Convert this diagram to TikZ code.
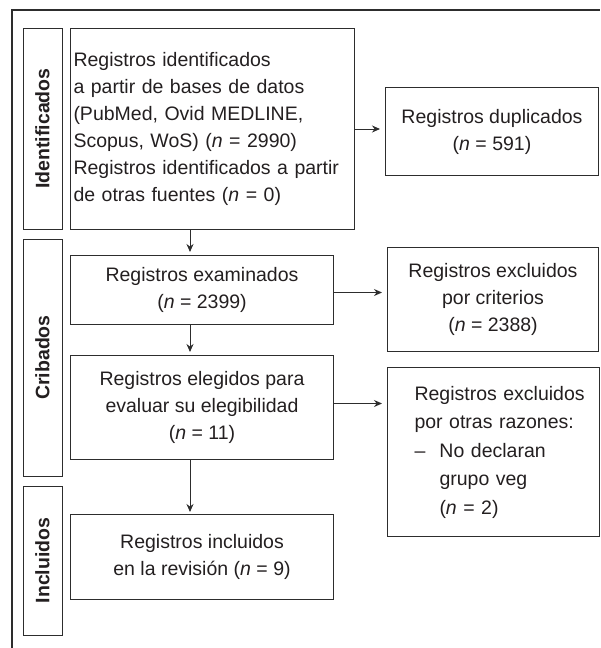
\documentclass[tikz,border=0pt]{standalone}
\usepackage{fontspec}
\setmainfont{Liberation Sans}
\usetikzlibrary{arrows.meta,positioning,calc}
\definecolor{linegray}{RGB}{45,45,45}
\definecolor{textgray}{RGB}{35,31,32}

\begin{document}
\begin{tikzpicture}[
    x=1pt, y=-1pt,
    every node/.style={font=\fontsize{19.5}{27}\selectfont, text=textgray},
    box/.style={draw=linegray, line width=1pt, align=center, inner sep=3pt, anchor=north west},
    phase/.style={draw=linegray, line width=1pt, rotate=90, inner sep=0pt, font=\fontsize{19.5}{27}\selectfont\bfseries},
    arr/.style={-{Stealth[length=8pt,width=7pt]}, draw=linegray, line width=1pt}
  ]
    \useasboundingbox (0,0) rectangle (600,648);
    % marco exterior
    \draw[linegray, line width=2pt] (12,648) |- (600,10);

    % fases
    \node[phase, minimum width=201pt, minimum height=39pt] (ident) at (42.5,128.5) {Identificados};
    \node[phase, minimum width=237pt, minimum height=39pt] (crib) at (42.5,357.5) {Cribados};
    \node[phase, minimum width=149pt, minimum height=39pt] (incl) at (42.5,560.5) {Incluidos};

    % cajas principales
    \node[box, align=left, text width=278pt, minimum height=201pt] (ident1) at (70,28)
      {Registros identificados\\a partir de bases de datos\\(PubMed, Ovid MEDLINE,\\Scopus, WoS) (\textit{n} = 2990)\\Registros identificados a partir\\de otras fuentes (\textit{n} = 0)};
    \node[box, minimum width=213pt, minimum height=88pt] (dup) at (385,87)
      {Registros duplicados\\(\textit{n} = 591)};
    \node[box, minimum width=263pt, minimum height=69pt] (exam) at (70,255)
      {Registros examinados\\(\textit{n} = 2399)};
    \node[box, minimum width=211pt, minimum height=104pt] (crit) at (387,247)
      {Registros excluidos\\por criterios\\(\textit{n} = 2388)};
    \node[box, minimum width=263pt, minimum height=104pt] (eleg) at (70,355)
      {Registros elegidos para\\evaluar su elegibilidad\\(\textit{n} = 11)};
    \node[box, align=left, inner xsep=0pt, text width=212pt, minimum height=169pt, font=\fontsize{19.5}{28.5}\selectfont] (otras) at (387,367)
      {\hspace*{27pt}Registros excluidos\\\hspace*{27pt}por otras razones:\\\hspace*{27pt}\makebox[25pt][l]{–}No declaran\\\hspace*{52pt}grupo veg\\\hspace*{52pt}(\textit{n} = 2)};
    \node[box, minimum width=263pt, minimum height=85pt] (final) at (70,514)
      {Registros incluidos\\en la revisión (\textit{n} = 9)};

    % conectores
    \coordinate (col) at (190,0);
    \draw[arr, shorten >=3pt] (ident1.south -| col) -- (exam.north -| col);
    \draw[arr, shorten >=3pt] (exam.south -| col) -- (eleg.north -| col);
    \draw[arr, shorten >=2pt] (eleg.south -| col) -- (final.north -| col);
    \draw[arr, shorten >=5pt] (ident1.east) -- (ident1.east -| dup.west);
    \draw[arr, shorten >=5pt] ($(exam.east)+(0,2.5)$) -- ($(exam.east -| crit.west)+(0,2.5)$);
    \draw[arr, shorten >=5pt] ($(eleg.east)+(0,-4)$) -- ($(eleg.east -| otras.west)+(0,-4)$);
  \end{tikzpicture}
\end{document}
